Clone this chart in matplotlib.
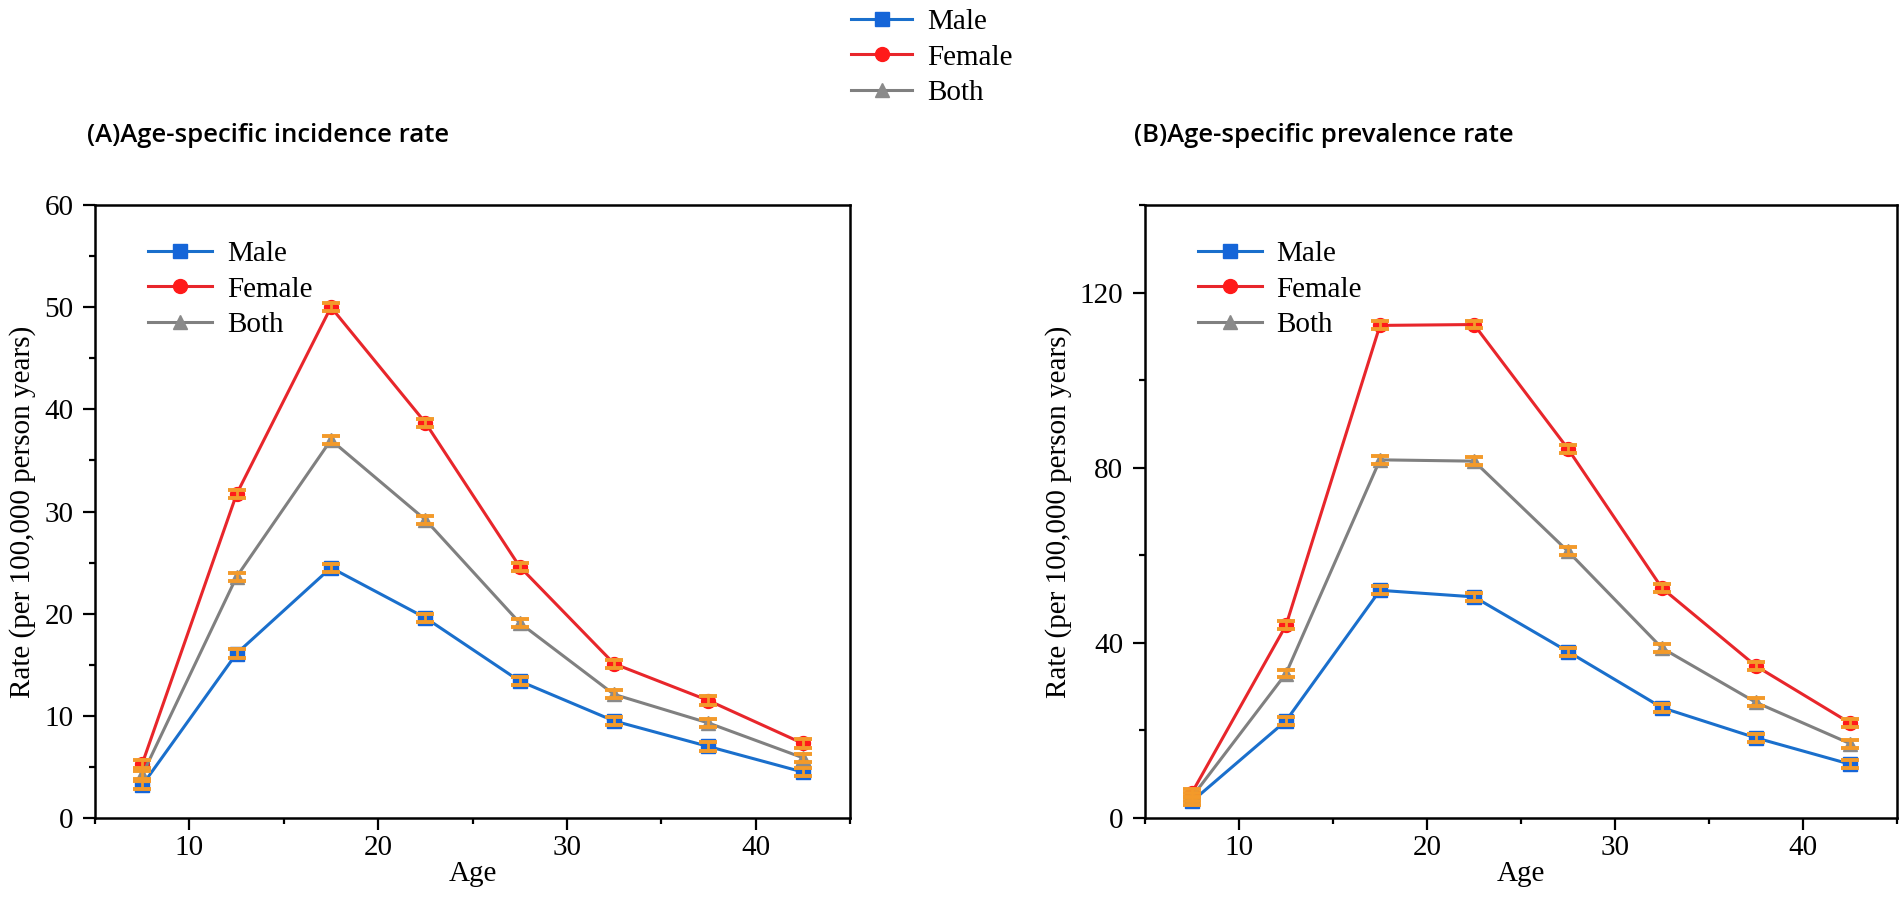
import matplotlib
matplotlib.use("Agg")
import matplotlib.pyplot as plt
from matplotlib.ticker import MultipleLocator
from matplotlib.lines import Line2D

# ---- data ----
ages = [7.5, 12.5, 17.5, 22.5, 27.5, 32.5, 37.5, 42.5]
series_names = ["Male", "Female", "Both"]

inc_male = [3.2, 16.1, 24.5, 19.6, 13.4, 9.5, 7.0, 4.5]
inc_female = [5.3, 31.7, 50.0, 38.7, 24.6, 15.1, 11.5, 7.3]
inc_both = [4.2, 23.6, 37.0, 29.2, 19.1, 12.1, 9.3, 5.9]
inc_err = [0.4, 0.4, 0.4, 0.4, 0.4, 0.4, 0.4, 0.4]

prev_male = [3.8, 22.2, 52.0, 50.5, 38.0, 25.2, 18.3, 12.3]
prev_female = [5.8, 44.0, 112.5, 112.7, 84.3, 52.5, 34.7, 21.7]
prev_both = [4.8, 33.0, 81.8, 81.5, 60.9, 38.8, 26.4, 17.0]
prev_err = [0.9, 0.9, 0.9, 0.9, 0.9, 0.9, 0.9, 0.9]

titles = ["(A)Age-specific incidence rate", "(B)Age-specific prevalence rate"]
x_label = "Age"
y_label = "Rate (per 100,000 person years)"
x_ticks = [10, 20, 30, 40]
inc_yticks = [0, 10, 20, 30, 40, 50, 60]
prev_yticks = [0, 40, 80, 120]

# ---- style ----
colors = {"Male": "#1a6fcc", "Female": "#e8262b", "Both": "#808080"}
mcolors = {"Male": "#1565d8", "Female": "#ff1a1a", "Both": "#8a8a8a"}
markers = {"Male": "s", "Female": "o", "Both": "^"}
err_color = "#f39a2a"
serif = ["Liberation Serif", "DejaVu Serif"]
title_font = ["Open Sans", "DejaVu Sans"]
FS = 21

fig = plt.figure(figsize=(19.02, 9.02), dpi=100)
W, H = 1902, 902
axA = fig.add_axes([95 / W, (H - 818) / H, 755 / W, 613 / H])
axB = fig.add_axes([1145 / W, (H - 818) / H, 752 / W, 613 / H])


def draw(ax, data, err, yticks, ymax, minor):
    for name, vals in zip(series_names, data):
        ax.plot(ages, vals, color=colors[name], lw=2.2, marker=markers[name],
                ms=10, mfc=mcolors[name], mec=mcolors[name], zorder=3, label=name)
        ax.errorbar(ages, vals, yerr=err, fmt="none", ecolor=err_color,
                    elinewidth=2, capsize=6.5, capthick=2.8, zorder=4)
    ax.set_xlim(5, 45)
    ax.set_ylim(0, ymax)
    ax.set_xticks(x_ticks)
    ax.xaxis.set_minor_locator(MultipleLocator(5))
    ax.set_yticks(yticks)
    ax.yaxis.set_minor_locator(MultipleLocator(minor))
    ax.tick_params(which="major", direction="out", length=8.5, width=1.6,
                   labelsize=FS, top=False, right=False)
    ax.tick_params(axis="y", which="major", pad=7)
    ax.tick_params(axis="x", which="major", pad=4)
    ax.tick_params(which="minor", direction="out", length=4.5, width=1.6,
                   top=False, right=False)
    for lab in ax.get_xticklabels() + ax.get_yticklabels():
        lab.set_family(serif)
    for s in ax.spines.values():
        s.set_linewidth(1.8)
        s.set_color("black")
    ax.set_xlabel(x_label, family=serif, fontsize=FS, labelpad=0)
    ax.set_ylabel(y_label, family=serif, fontsize=FS, labelpad=6)
    ax.legend(loc="upper left", bbox_to_anchor=(53 / 755, 1 - 36 / 613),
              frameon=False, prop={"family": serif, "size": FS},
              handlelength=2.2, handletextpad=0.5, labelspacing=0.3,
              borderaxespad=0, borderpad=0)


draw(axA, [inc_male, inc_female, inc_both], inc_err, inc_yticks, 60, 5)
draw(axB, [prev_male, prev_female, prev_both], prev_err, prev_yticks, 140, 20)

fig.text(87 / W, 1 - 136 / H, titles[0], family=title_font, fontsize=18.5,
         fontweight="semibold", va="center", ha="left")
fig.text(1134 / W, 1 - 136 / H, titles[1], family=title_font, fontsize=18.5,
         fontweight="semibold", va="center", ha="left")

handles = [Line2D([], [], color=colors[n], lw=2.2, marker=markers[n], ms=10,
                  mfc=mcolors[n], mec=mcolors[n]) for n in series_names]
fig.legend(handles, series_names, loc="upper left",
           bbox_to_anchor=(851 / W, 1 - 9 / H), frameon=False,
           prop={"family": serif, "size": FS}, handlelength=2.1,
           handletextpad=0.5, labelspacing=0.3, borderaxespad=0, borderpad=0)

fig.savefig("out.png", dpi=100)
